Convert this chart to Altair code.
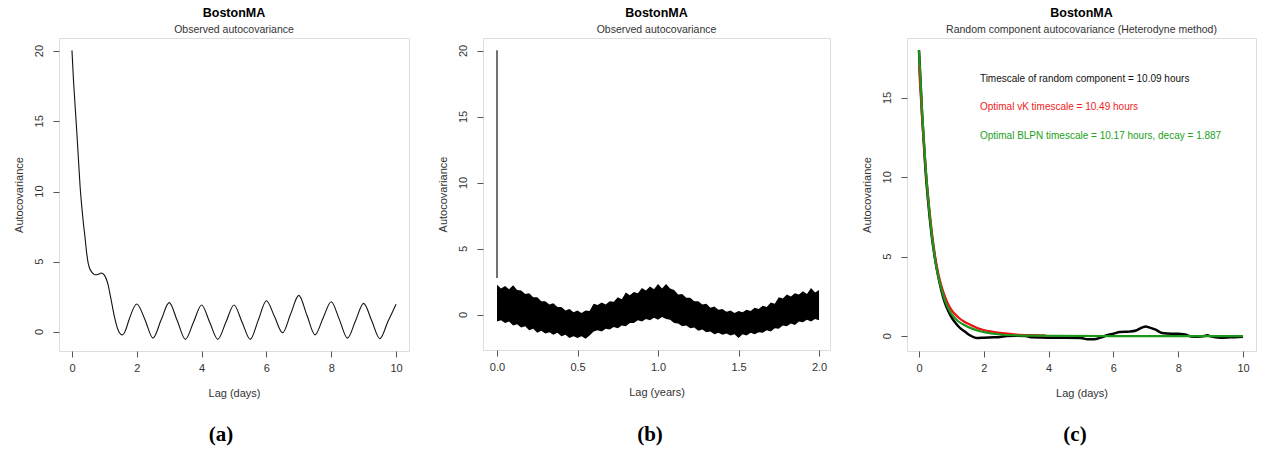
import altair as alt
import pandas as pd

FONT = "Liberation Sans"
BOX = "#555555"

# ---------------- Panel (a): observed autocovariance, lag in days ----------------
a_lag = [0, 0.05, 0.1, 0.15, 0.2, 0.25, 0.3, 0.35, 0.4, 0.45, 0.5, 0.55, 0.6, 0.7, 0.8, 0.9,
         1.0, 1.1, 1.2, 1.3, 1.4, 1.5, 1.55, 1.65, 1.75, 2.0, 2.25, 2.5, 2.75, 3.0, 3.25, 3.5,
         3.75, 4.0, 4.25, 4.5, 4.75, 5.0, 5.25, 5.5, 5.75, 6.0, 6.25, 6.5, 6.75, 7.0, 7.25,
         7.5, 7.75, 8.0, 8.25, 8.5, 8.75, 9.0, 9.25, 9.5, 9.75, 10.0]
a_acv = [20.05, 17.8, 16.0, 14.2, 12.3, 10.4, 9.0, 7.8, 6.8, 5.7, 4.9, 4.5, 4.3, 4.08, 4.1, 4.2,
         4.05, 3.5, 2.4, 1.2, 0.3, -0.15, -0.2, 0.1, 0.8, 2.0, 0.9, -0.43, 0.85, 2.09, 0.8, -0.52,
         0.7, 1.92, 0.7, -0.52, 0.7, 1.92, 0.7, -0.52, 0.85, 2.23, 1.1, -0.05, 1.3, 2.61, 1.2,
         -0.2, 1.0, 2.16, 0.9, -0.43, 0.8, 2.04, 0.8, -0.47, 0.75, 1.97]

# ---------------- Panel (b): observed autocovariance, lag in years ----------------
b_lag = [0.000, 0.025, 0.050, 0.075, 0.100, 0.125, 0.150, 0.175, 0.200, 0.225, 0.250, 0.275,
         0.300, 0.325, 0.350, 0.375, 0.400, 0.425, 0.450, 0.475, 0.500, 0.525, 0.550, 0.575,
         0.600, 0.625, 0.650, 0.675, 0.700, 0.725, 0.750, 0.775, 0.800, 0.825, 0.850, 0.875,
         0.900, 0.925, 0.950, 0.975, 1.000, 1.025, 1.050, 1.075, 1.100, 1.125, 1.150, 1.175,
         1.200, 1.225, 1.250, 1.275, 1.300, 1.325, 1.350, 1.375, 1.400, 1.425, 1.450, 1.475,
         1.500, 1.525, 1.550, 1.575, 1.600, 1.625, 1.650, 1.675, 1.700, 1.725, 1.750, 1.775,
         1.800, 1.825, 1.850, 1.875, 1.900, 1.925, 1.950, 1.975, 2.000]
b_upper = [2.3, 2.0, 2.2, 1.95, 2.25, 1.9, 1.85, 1.6, 1.65, 1.35, 1.35, 1.05,
           1.05, 0.8, 0.9, 0.6, 0.6, 0.35, 0.45, 0.2, 0.35, 0.15, 0.35, 0.3,
           0.85, 0.75, 0.95, 0.8, 1.05, 1.0, 1.35, 1.2, 1.7, 1.5, 1.75, 1.65,
           2.05, 1.85, 2.15, 1.95, 2.35, 2.0, 2.35, 2.0, 1.9, 1.55, 1.6, 1.3,
           1.3, 1.05, 1.05, 0.8, 0.85, 0.55, 0.65, 0.4, 0.45, 0.25, 0.35, 0.15,
           0.3, 0.2, 0.4, 0.3, 0.55, 0.45, 0.7, 0.6, 0.95, 0.85, 1.35, 1.25,
           1.55, 1.4, 1.65, 1.55, 1.8, 1.6, 2.05, 1.7, 1.9]
b_lower = [-0.5, -0.4, -0.6, -0.5, -0.8, -0.7, -0.95, -0.85, -1.15, -1.05, -1.35, -1.2,
           -1.4, -1.3, -1.5, -1.35, -1.6, -1.5, -1.75, -1.6, -1.75, -1.6, -1.8, -1.55,
           -1.25, -1.15, -1.25, -1.05, -1.1, -0.9, -1.0, -0.8, -0.85, -0.6, -0.6, -0.4,
           -0.5, -0.3, -0.4, -0.2, -0.35, -0.15, -0.3, -0.35, -0.6, -0.65, -0.85, -0.8,
           -1.0, -0.95, -1.2, -1.1, -1.3, -1.25, -1.45, -1.35, -1.5, -1.4, -1.55, -1.45,
           -1.75, -1.45, -1.55, -1.35, -1.45, -1.3, -1.35, -1.15, -1.25, -1.0, -1.05, -0.8,
           -0.85, -0.65, -0.75, -0.5, -0.55, -0.35, -0.5, -0.3, -0.4]
b_spike_lag = [0.0, 0.0]
b_spike_acv = [20.05, 2.8]

# ---------------- Panel (c): random component autocovariance ----------------
c_obs_lag = [0, 0.1, 0.2, 0.3, 0.4, 0.5, 0.6, 0.7, 0.8, 0.9, 1.0, 1.1, 1.2, 1.3, 1.4, 1.5, 1.6,
             1.7, 1.8, 2.0, 2.3, 2.5, 2.7, 3.0, 3.3, 3.5, 4.0, 4.5, 5.0, 5.2, 5.4, 5.6, 5.8, 6.0,
             6.2, 6.5, 6.7, 6.9, 7.0, 7.1, 7.3, 7.5, 7.8, 8.0, 8.2, 8.4, 8.6, 8.8, 8.9, 9.0, 9.3,
             9.6, 10.0]
c_obs_acv = [18.0, 13.8, 10.5, 8.1, 6.2, 4.8, 3.7, 2.8, 2.1, 1.6, 1.2, 0.9, 0.65, 0.45, 0.3, 0.15,
             0.02, -0.08, -0.12, -0.1, -0.08, -0.06, 0.0, 0.02, 0.0, -0.08, -0.1, -0.1, -0.12, -0.2,
             -0.2, -0.1, 0.05, 0.15, 0.25, 0.28, 0.35, 0.55, 0.6, 0.55, 0.4, 0.2, 0.15, 0.15, 0.1,
             -0.02, -0.05, 0.0, 0.05, -0.02, -0.1, -0.08, -0.05]
c_vk_lag = [0, 0.1, 0.2, 0.3, 0.4, 0.5, 0.6, 0.7, 0.8, 0.9, 1.0, 1.2, 1.4, 1.6, 1.8, 2.0, 2.5,
            3.0, 3.5, 3.9]
c_vk_acv = [17.0, 13.6, 10.7, 8.4, 6.5, 5.0, 3.9, 3.1, 2.5, 2.0, 1.65, 1.2, 0.9, 0.7, 0.5, 0.38,
            0.2, 0.1, 0.06, 0.04]
c_blpn_lag = [0, 0.1, 0.2, 0.3, 0.4, 0.5, 0.6, 0.7, 0.8, 0.9, 1.0, 1.2, 1.4, 1.6, 1.8, 2.0, 2.5,
              3.0, 4.0, 6.0, 10.0]
c_blpn_acv = [18.0, 14.0, 10.8, 8.3, 6.3, 4.8, 3.7, 2.9, 2.25, 1.75, 1.4, 0.95, 0.7, 0.5, 0.35,
              0.25, 0.1, 0.05, 0.02, 0.0, 0.0]

notes_text = ["Timescale of random component = 10.09 hours",
              "Optimal vK timescale = 10.49 hours",
              "Optimal BLPN timescale = 10.17 hours, decay = 1.887"]
notes_x = [1.88, 1.88, 1.88]
notes_y = [16.16, 14.4, 12.58]
notes_color = ["#111111", "#ee1c1c", "#22a022"]

title_main = "BostonMA"
subtitles = ["Observed autocovariance", "Observed autocovariance",
             "Random component autocovariance (Heterodyne method)"]
x_titles = ["Lag (days)", "Lag (years)", "Lag (days)"]
panel_tags = ["a", "b", "c"]
yticks_ab = [0, 5, 10, 15, 20]
yticks_c = [0, 5, 10, 15]


def xenc(domain, ticks, title, fmt):
    return alt.X("x:Q", scale=alt.Scale(domain=domain, nice=False, zero=False),
                 axis=alt.Axis(values=ticks, format=fmt, title=title, grid=False, domain=False,
                               tickSize=6, tickColor=BOX, labelPadding=5, labelFontSize=11,
                               labelColor="#333333", titleFontSize=11, titleFontWeight="normal",
                               titleColor="#333333", titlePadding=14, labelFont=FONT,
                               titleFont=FONT, labelFlush=False))


def yenc(domain, ticks, field="y:Q"):
    return alt.Y(field, scale=alt.Scale(domain=domain, nice=False, zero=False),
                 axis=alt.Axis(values=ticks, labels=False, title="Autocovariance", grid=False,
                               domain=False, tickSize=6, tickColor=BOX,
                               titleFontSize=11, titleFontWeight="normal", titleColor="#333333",
                               titlePadding=28, titleFont=FONT))


def ylabel_layer(domain, ticks):
    # R-style vertical tick labels on the y axis
    df = pd.DataFrame({"y": ticks, "t": [str(v) for v in ticks]})
    return alt.Chart(df).mark_text(font=FONT, fontSize=11, color="#333333", angle=270,
                                   align="center", baseline="bottom").encode(
        y=yenc(domain, ticks), x=alt.value(-14), text="t:N")


def tag_layer(letter, xpos, ypos):
    df = pd.DataFrame({"t": ["(" + letter + ")"]})
    return alt.Chart(df).mark_text(font="Liberation Serif", fontSize=21, fontWeight="bold",
                                   color="#000000", baseline="middle", align="center").encode(
        text="t:N", x=alt.value(xpos), y=alt.value(ypos))


def make_title(sub):
    return alt.TitleParams(title_main, subtitle=sub, fontSize=12.5, fontWeight="bold", font=FONT,
                           subtitleFont=FONT, subtitleFontSize=10.5, subtitleColor="#333333",
                           color="#000000", anchor="middle", frame="group", offset=3,
                           subtitlePadding=5)


# ----- panel a -----
A_W, A_H = 350, 313
a_xd, a_yd = [-0.4, 10.4], [-1.35, 20.93]
df_a = pd.DataFrame({"x": a_lag, "y": a_acv})
pa = alt.layer(
    alt.Chart(df_a).mark_line(color="#111111", strokeWidth=1.1, interpolate="monotone").encode(
        x=xenc(a_xd, [0, 2, 4, 6, 8, 10], x_titles[0], "d"),
        y=yenc(a_yd, yticks_ab)),
    ylabel_layer(a_yd, yticks_ab),
    tag_layer(panel_tags[0], A_W / 2 - 13, 397),
).properties(width=A_W, height=A_H, title=make_title(subtitles[0]))

# ----- panel b -----
B_W, B_H = 347, 312
b_xd, b_yd = [-0.087, 2.068], [-2.65, 20.98]
df_b = pd.DataFrame({"x": b_lag, "y": b_upper, "y2": b_lower})
df_bs = pd.DataFrame({"x": b_spike_lag, "y": b_spike_acv})
pb = alt.layer(
    alt.Chart(df_b).mark_area(color="#000000", opacity=1, line=False).encode(
        x=xenc(b_xd, [0, 0.5, 1, 1.5, 2], x_titles[1], ".1f"),
        y=yenc(b_yd, yticks_ab), y2="y2:Q"),
    alt.Chart(df_bs).mark_line(color="#111111", strokeWidth=1.2).encode(
        x=xenc(b_xd, [0, 0.5, 1, 1.5, 2], x_titles[1], ".1f"),
        y=yenc(b_yd, yticks_ab)),
    ylabel_layer(b_yd, yticks_ab),
    tag_layer(panel_tags[1], 167, 397),
).properties(width=B_W, height=B_H, title=make_title(subtitles[1]))

# ----- panel c -----
C_W, C_H = 349, 313
c_xd, c_yd = [-0.37, 10.4], [-0.94, 18.77]
cx = lambda: xenc(c_xd, [0, 2, 4, 6, 8, 10], x_titles[2], "d")
cy = lambda: yenc(c_yd, yticks_c)
df_co = pd.DataFrame({"x": c_obs_lag, "y": c_obs_acv})
df_cv = pd.DataFrame({"x": c_vk_lag, "y": c_vk_acv})
df_cb = pd.DataFrame({"x": c_blpn_lag, "y": c_blpn_acv})
df_cn = pd.DataFrame({"x": notes_x, "y": notes_y, "t": notes_text, "c": notes_color})
pc = alt.layer(
    alt.Chart(df_co).mark_line(color="#000000", strokeWidth=2.5, interpolate="monotone").encode(
        x=cx(), y=cy()),
    alt.Chart(df_cv).mark_line(color="#ee1111", strokeWidth=2.2, interpolate="monotone").encode(
        x=cx(), y=cy()),
    alt.Chart(df_cb).mark_line(color="#1b961b", strokeWidth=2.2, interpolate="monotone").encode(
        x=cx(), y=cy()),
    alt.Chart(df_cn).mark_text(font=FONT, fontSize=10, align="left", baseline="middle").encode(
        x=cx(), y=cy(), text="t:N", color=alt.Color("c:N", scale=None)),
    ylabel_layer(c_yd, yticks_c),
    tag_layer(panel_tags[2], 168, 397),
).properties(width=C_W, height=C_H, title=make_title(subtitles[2]))

chart = alt.hconcat(alt.hconcat(pa, pb, spacing=27), pc, spacing=30).properties(
    padding={"left": 13, "top": 6, "right": 2, "bottom": 2}
).configure_view(stroke=BOX, strokeWidth=1.2).configure(background="white")

chart.save("out.html", embed_options={"renderer": "svg", "actions": False})
